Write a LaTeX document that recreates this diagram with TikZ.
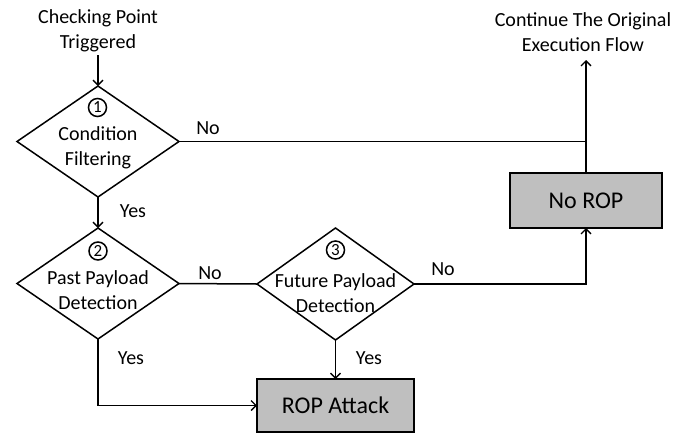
\documentclass[tikz,border=0pt]{standalone}
\usepackage{fontspec}
\setmainfont{Carlito}
\usetikzlibrary{shapes.geometric,arrows.meta}
\begin{document}
\begin{tikzpicture}[x=1pt,y=-1pt,
  line/.style={line width=1.5pt,black},
  arr/.style={line, -{Straight Barb[length=5pt,width=10pt,line width=1.3pt]}},
  dec/.style={diamond,draw,line width=1.5pt,inner sep=0pt,outer sep=0pt},
  procbox/.style={draw,line width=1.5pt,fill=black!25,inner sep=0pt,outer sep=0pt,font=\fontsize{24}{28}\selectfont},
  txt/.style={align=center,inner sep=0pt,font=\fontsize{20}{25}\selectfont},
  lbl/.style={inner sep=0pt,font=\fontsize{20}{24}\selectfont},
  num/.style={circle,draw,line width=1.5pt,minimum size=18pt,inner sep=0pt,font=\fontsize{17}{18}\selectfont}]
\useasboundingbox (0,0) rectangle (696,432);
% title texts
\node[txt] (start) at (98,31) {Checking Point\\Triggered};
\node[txt] (cont) at (583,32) {Continue The Original\\Execution Flow};
\coordinate (starte) at (98,55);
\coordinate (conte) at (586,60);
% decisions
\node[dec,minimum width=162pt,minimum height=111pt] (d1) at (98,141.5) {};
\node[dec,minimum width=162pt,minimum height=111pt] (d2) at (98,283.5) {};
\node[dec,minimum width=157pt,minimum height=112pt] (d3) at (335.5,284) {};
\node[num] (n1) at (97.5,107.5) {1};
\node[num] (n2) at (98,251) {2};
\node[num] (n3) at (335.5,250) {3};
\node[txt] (t1) at (98,148) {Condition\\Filtering};
\node[txt] (t2) at (98,290) {Past Payload\\Detection};
\node[txt] (t3) at (335.5,293) {Future Payload\\Detection};
% boxes
\node[procbox,minimum width=152pt,minimum height=55pt] (norop) at (586,200.5) {No ROP};
\node[procbox,minimum width=157pt,minimum height=53pt] (rop) at (335.5,405.5) {ROP Attack};
% connectors
\draw[arr] (starte) -- (d1.north);
\draw[line] (d1.east) -- (d1.east -| norop.north);
\draw[arr] (norop.north) -- (conte);
\draw[arr] (d1.south) -- (d2.north);
\draw[line] (d2.east) -- (d3.west);
\draw[arr] (d3.east) -| (norop.south);
\draw[arr] (d3.south) -- (rop.north);
\draw[arr] (d2.south) |- (rop.west);
% labels
\node[lbl] (l1) at (208,128) {No};
\node[lbl] (l2) at (133,211) {Yes};
\node[lbl] (l3) at (210,273) {No};
\node[lbl] (l4) at (443,269) {No};
\node[lbl] (l5) at (131,358) {Yes};
\node[lbl] (l6) at (369,358) {Yes};
\end{tikzpicture}
\end{document}
